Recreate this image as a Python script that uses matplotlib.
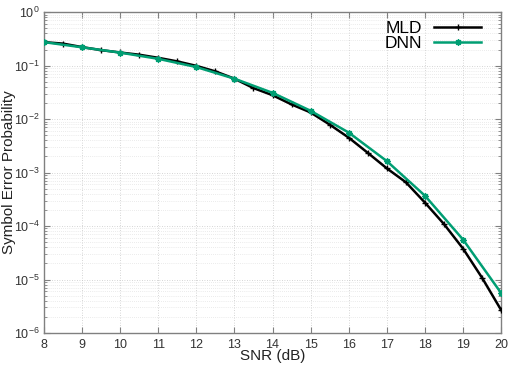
import numpy as np
import matplotlib
matplotlib.use("Agg")
import matplotlib.pyplot as plt
from matplotlib.ticker import LogLocator, FixedLocator, NullFormatter

# SNR grid and error rates
snr_mld = [8, 8.5, 9, 9.5, 10, 10.5, 11, 11.5, 12, 12.5, 13, 13.5, 14, 14.5,
           15, 15.5, 16, 16.5, 17, 17.5, 18, 18.5, 19, 19.5, 20]
ser_mld = [0.275, 0.258, 0.222, 0.195, 0.176, 0.160, 0.140, 0.120, 0.099, 0.078,
           0.057, 0.038, 0.028, 0.0188, 0.0133, 0.0079, 0.0045, 0.00234, 0.0012,
           6.6e-4, 2.75e-4, 1.09e-4, 3.8e-5, 1.08e-5, 2.7e-6]
snr_dnn = [8, 9, 10, 11, 12, 13, 14, 15, 16, 17, 18, 19, 20]
ser_dnn = [0.275, 0.220, 0.175, 0.134, 0.094, 0.057, 0.031, 0.0143, 0.0056,
           0.00164, 3.7e-4, 5.6e-5, 5.6e-6]
x_ticks = list(range(8, 21))
y_ticks = [1e-6, 1e-5, 1e-4, 1e-3, 1e-2, 1e-1, 1]

plt.rcParams['font.family'] = ['Liberation Sans', 'DejaVu Sans']
plt.rcParams['mathtext.default'] = 'regular'

fig = plt.figure(figsize=(5.2, 3.65), dpi=100)
ax = fig.add_axes([0.0846, 0.0877, 0.879, 0.879])

ax.plot(snr_mld, ser_mld, color='black', lw=1.8, marker='+', ms=4, mew=1.0, label='MLD', zorder=3)
ax.plot(snr_dnn, ser_dnn, color='#009e73', lw=1.8, marker=(8, 2, 0), ms=4.5, mew=1.0, label='DNN', zorder=3)

ax.set_yscale('log')
ax.set_xlim(8, 20)
ax.set_ylim(1e-6, 1)
ax.xaxis.set_major_locator(FixedLocator(x_ticks))
ax.yaxis.set_major_locator(FixedLocator(y_ticks))
ax.yaxis.set_minor_locator(LogLocator(base=10, subs=np.arange(2, 10), numticks=100))
ax.yaxis.set_minor_formatter(NullFormatter())

ax.grid(True, which='major', color='#c8c8c8', ls=(0, (1, 2)), lw=0.6)
ax.grid(True, which='minor', axis='y', color='#d8d8d8', ls=(0, (1, 2)), lw=0.5)

for sp in ax.spines.values():
    sp.set_color('#808080')
    sp.set_linewidth(1.0)
ax.tick_params(which='both', direction='in', top=True, right=True, colors='#808080',
               labelcolor='#333333', labelsize=9)
ax.tick_params(which='major', length=4)
ax.tick_params(which='minor', length=2)
ax.tick_params(axis='x', pad=4)
ax.tick_params(axis='y', pad=3)

ax.set_xlabel('SNR (dB)', fontsize=11, color='#222222', va='center')
ax.set_ylabel('Symbol Error Probability', fontsize=11, color='#222222', va='center')
ax.xaxis.set_label_coords(0.5, -0.072)
ax.yaxis.set_label_coords(-0.077, 0.5)

ax.legend(loc='upper right', bbox_to_anchor=(0.975, 1.0), frameon=False, markerfirst=False,
          fontsize=12.5, handlelength=2.7, handletextpad=0.7, labelspacing=0.0,
          borderaxespad=0.1)

fig.savefig('out.png', dpi=100)
